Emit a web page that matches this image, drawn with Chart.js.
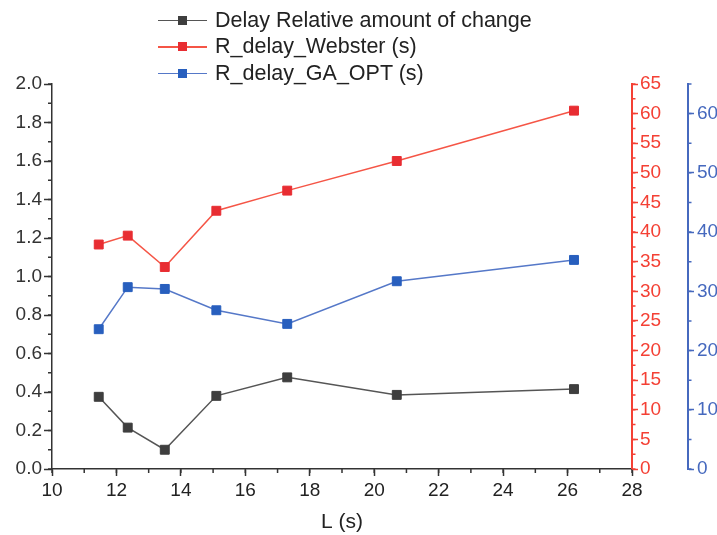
<!DOCTYPE html>
<html>
<head>
<meta charset="utf-8">
<script src="https://cdn.jsdelivr.net/npm/chart.js@4.4.1/dist/chart.umd.min.js"></script>
<style>
  html, body { margin: 0; padding: 0; background: #fff; overflow: hidden; }
  #wrap { position: relative; width: 740px; height: 535px; }
  #legend { position: absolute; left: 158px; top: 7px; font-family: "Liberation Sans", Arial, sans-serif; font-size: 21.5px; color: #222; }
  .item { display: flex; align-items: center; height: 26.5px; white-space: nowrap; }
  .sym { position: relative; width: 49px; height: 1.5px; margin-right: 8px; }
  .sym i { position: absolute; left: 20px; top: -4px; width: 9px; height: 9px; }
</style>
</head>
<body>
<div id="wrap">
  <canvas id="chart" width="740" height="535"></canvas>
  <div id="legend"></div>
</div>
<script>
const xValues = [11.45, 12.35, 13.5, 15.1, 17.3, 20.7, 26.2];
const delayChange = [0.375, 0.215, 0.10, 0.38, 0.476, 0.385, 0.415];
const websterDelay = [37.9, 39.4, 34.1, 43.6, 47.0, 52.0, 60.5];
const gaOptDelay = [23.6, 30.7, 30.4, 26.8, 24.5, 31.7, 35.3];
const seriesNames = ["Delay Relative amount of change", "R_delay_Webster (s)", "R_delay_GA_OPT (s)"];
const xTitle = "L (s)";

const FONT = '"Liberation Sans", Arial, sans-serif';
const AXIS = "#333";
const RED = "rgb(244, 64, 52)";
const BLUE = "rgb(70, 105, 190)";

const lineColors = ["rgb(85, 85, 85)", "rgb(245, 85, 70)", "rgb(85, 120, 200)"];
const markColors = ["rgb(62, 62, 62)", "rgb(232, 45, 50)", "rgb(40, 95, 190)"];

function toPoints(ys) {
  return xValues.map((x, i) => ({ x: x, y: ys[i] }));
}

// minor ticks are not a Chart.js feature, draw them from the scales
const minorSpec = {
  x: { step: 1, length: 4, color: AXIS },
  y: { step: 0.1, length: 4, color: AXIS },
  yRed: { step: 2.5, length: 3.5, color: RED },
  yBlue: { step: 5, length: 3.5, color: BLUE }
};

const minorTicks = {
  id: "minorTicks",
  afterDraw(chart) {
    const ctx = chart.ctx;
    Object.values(chart.scales).forEach(scale => {
      const m = minorSpec[scale.id];
      if (!m) return;
      ctx.save();
      ctx.strokeStyle = m.color;
      ctx.lineWidth = 1.5;
      ctx.beginPath();
      for (let v = scale.min; v <= scale.max + 1e-9; v += m.step) {
        const p = scale.getPixelForValue(v);
        if (scale.isHorizontal()) {
          ctx.moveTo(p, scale.top); ctx.lineTo(p, scale.top + m.length);
        } else if (scale.position === "left") {
          ctx.moveTo(scale.right, p); ctx.lineTo(scale.right - m.length, p);
        } else {
          ctx.moveTo(scale.left, p); ctx.lineTo(scale.left + m.length, p);
        }
      }
      ctx.stroke();
      ctx.restore();
    });
  }
};

function dataset(i, ys, axis) {
  return {
    label: seriesNames[i],
    data: toPoints(ys),
    yAxisID: axis,
    borderColor: lineColors[i],
    backgroundColor: markColors[i],
    borderWidth: 1.5,
    pointStyle: "rect",
    pointRadius: 6.3,
    pointBackgroundColor: markColors[i],
    pointBorderColor: markColors[i],
    pointBorderWidth: 1,
    tension: 0
  };
}

const ctx = document.getElementById("chart").getContext("2d");
const chart = new Chart(ctx, {
  type: "line",
  data: {
    datasets: [
      dataset(0, delayChange, "y"),
      dataset(1, websterDelay, "yRed"),
      dataset(2, gaOptDelay, "yBlue")
    ]
  },
  options: {
    responsive: false,
    animation: false,
    devicePixelRatio: 1,
    layout: { padding: { top: 84, left: 0, right: 0, bottom: 0 } },
    plugins: { legend: { display: false }, tooltip: { enabled: false } },
    scales: {
      x: {
        type: "linear",
        min: 10, max: 28,
        border: { color: AXIS, width: 1.5 },
        grid: { drawOnChartArea: false, tickLength: 7, tickColor: AXIS, tickWidth: 1.5 },
        ticks: { stepSize: 2, color: "#222", font: { family: FONT, size: 19 }, padding: 3, maxRotation: 0 },
        title: { display: true, text: xTitle, color: "#222", font: { family: FONT, size: 21 }, padding: { top: 4, bottom: 0 } },
        afterFit: s => { s.height = 66; }
      },
      y: {
        position: "left",
        min: 0, max: 2,
        border: { color: AXIS, width: 1.5 },
        grid: { drawOnChartArea: false, tickLength: 8, tickColor: AXIS, tickWidth: 1.5 },
        ticks: { stepSize: 0.2, color: "#333", font: { family: FONT, size: 19 }, padding: 2,
          callback: v => v.toFixed(1) },
        afterFit: s => { s.width = 52; }
      },
      yRed: {
        position: "right",
        weight: 0,
        min: 0, max: 65,
        border: { color: RED, width: 2 },
        grid: { drawOnChartArea: false, tickLength: 6, tickColor: RED, tickWidth: 1.5 },
        ticks: { stepSize: 5, color: RED, font: { family: FONT, size: 19 }, padding: 2 },
        afterFit: s => { s.width = 56; }
      },
      yBlue: {
        position: "right",
        weight: 1,
        min: 0, max: 65,
        border: { color: BLUE, width: 2 },
        grid: { drawOnChartArea: false, tickLength: 6, tickColor: BLUE, tickWidth: 1.5 },
        ticks: { stepSize: 10, includeBounds: false, color: BLUE, font: { family: FONT, size: 19 }, padding: 3 },
        afterFit: s => { s.width = 52; }
      }
    }
  },
  plugins: [minorTicks]
});

const legend = document.getElementById("legend");
chart.data.datasets.forEach((ds, i) => {
  const row = document.createElement("div");
  row.className = "item";
  row.innerHTML = `<span class="sym" style="background:${ds.borderColor}"><i style="background:${ds.pointBackgroundColor}"></i></span><span>${ds.label}</span>`;
  legend.appendChild(row);
});
</script>
</body>
</html>
